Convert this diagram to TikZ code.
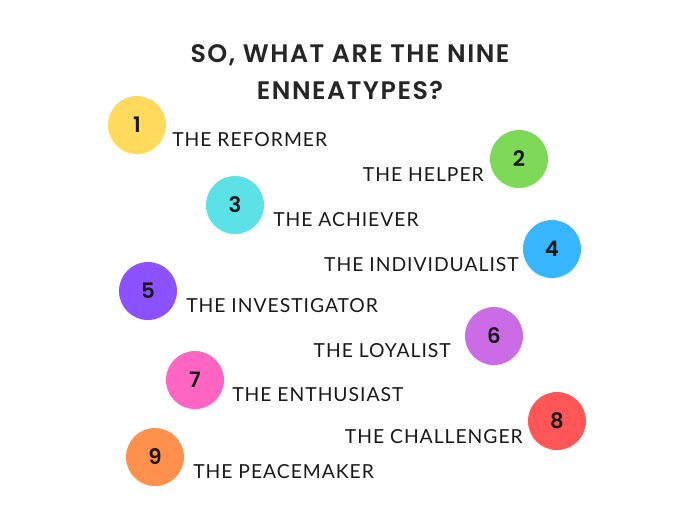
\documentclass[tikz,border=0pt]{standalone}
\usepackage{fontspec}
\setmainfont{Lato}
\newfontfamily\titlefont[LetterSpace=6]{Poppins SemiBold}
\newfontfamily\numfont{Poppins SemiBold}
\newfontfamily\labelfont[LetterSpace=5]{Lato}
\definecolor{typeA}{HTML}{FFDA5C}
\definecolor{typeB}{HTML}{7ED957}
\definecolor{typeC}{HTML}{5CE1E6}
\definecolor{typeD}{HTML}{38B6FF}
\definecolor{typeE}{HTML}{8C52FF}
\definecolor{typeF}{HTML}{CB6CE6}
\definecolor{typeG}{HTML}{FF66C4}
\definecolor{typeH}{HTML}{FF5757}
\definecolor{typeI}{HTML}{FF914D}

\begin{document}
\begin{tikzpicture}[
   x=0.75pt,y=-0.75pt,
   every node/.style={inner sep=0pt},
   headline/.style={font=\titlefont\fontsize{19}{19}\selectfont,text=black!85},
   dot/.style={circle,minimum size=43.5pt,font=\numfont\fontsize{16}{16}\selectfont,text=black!90},
   typename/.style={font=\labelfont\fontsize{14.5}{14.5}\selectfont,text=black!90}]
\useasboundingbox[fill=white] (0,0) rectangle (700,507);
\node[headline] (head1) at (350,55) {SO, WHAT ARE THE NINE};
\node[headline] (head2) at (350,90) {ENNEATYPES?};
% circles
\node[dot,fill=typeA] (c1) at (137,125) {1};
\node[dot,fill=typeB] (c2) at (519,159) {2};
\node[dot,fill=typeC] (c3) at (235,205) {3};
\node[dot,fill=typeD] (c4) at (552,249) {4};
\node[dot,fill=typeE] (c5) at (148,291) {5};
\node[dot,fill=typeF] (c6) at (494,336) {6};
\node[dot,fill=typeG] (c7) at (195,380) {7};
\node[dot,fill=typeH] (c8) at (557,421) {8};
\node[dot,fill=typeI] (c9) at (155,457) {9};
% names
\node[typename,anchor=west] (n1) at (172,140) {THE REFORMER};
\node[typename,anchor=east] (n2) at (484,175) {THE HELPER};
\node[typename,anchor=west] (n3) at (273,220) {THE ACHIEVER};
\node[typename,anchor=east] (n4) at (519,265) {THE INDIVIDUALIST};
\node[typename,anchor=west] (n5) at (186,306) {THE INVESTIGATOR};
\node[typename,anchor=east] (n6) at (451,351) {THE LOYALIST};
\node[typename,anchor=west] (n7) at (232,395) {THE ENTHUSIAST};
\node[typename,anchor=east] (n8) at (523,437) {THE CHALLENGER};
\node[typename,anchor=west] (n9) at (193,472) {THE PEACEMAKER};
\end{tikzpicture}
\end{document}
